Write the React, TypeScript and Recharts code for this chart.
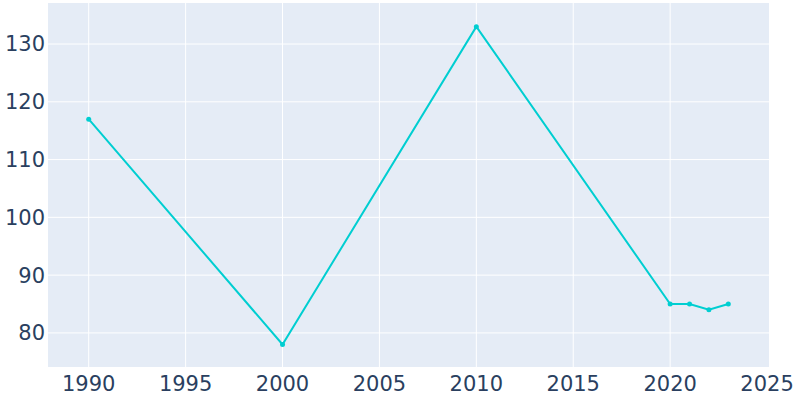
import {LineChart, Line, XAxis, YAxis, CartesianGrid} from 'recharts';

const years = [1990, 2000, 2010, 2020, 2021, 2022, 2023];
const population = [117, 78, 133, 85, 85, 84, 85];
const xTicks = [1990, 1995, 2000, 2005, 2010, 2015, 2020, 2025];
const xGrid = [1990, 1995, 2000, 2005, 2010, 2015, 2020];
const yTicks = [80, 90, 100, 110, 120, 130];

const data = years.map((year, i) => ({year, value: population[i]}));

const tickStyle = {
  fill: '#2a3f5f',
  fontSize: 21,
  fontFamily: '"DejaVu Sans", sans-serif',
};

export default function App() {
  return (
    <div style={{position: 'absolute', left: 0, top: 0, width: 800, height: 400, background: '#fff'}}>
      <LineChart
        width={800}
        height={400}
        data={data}
        margin={{top: 3, right: 31, left: 0, bottom: 0}}>
        <CartesianGrid
          stroke="#fff"
          strokeWidth={1}
          fill="#E5ECF6"
          fillOpacity={1}
          verticalValues={xGrid}
          horizontalValues={yTicks}
        />
        <XAxis
          dataKey="year"
          type="number"
          domain={[1987.9, 2025.1]}
          ticks={xTicks}
          allowDataOverflow
          axisLine={false}
          tickLine={false}
          tickSize={0}
          tickMargin={9}
          height={33}
          tick={tickStyle}
        />
        <YAxis
          type="number"
          domain={[74.1, 137.1]}
          ticks={yTicks}
          allowDataOverflow
          axisLine={false}
          tickLine={false}
          tickSize={0}
          tickMargin={3}
          width={48}
          tick={tickStyle}
        />
        <Line
          dataKey="value"
          type="linear"
          stroke="#00CED1"
          strokeWidth={2}
          dot={{r: 2.5, fill: '#00CED1', stroke: '#00CED1', strokeWidth: 0}}
          activeDot={false}
          isAnimationActive={false}
        />
      </LineChart>
    </div>
  );
}
